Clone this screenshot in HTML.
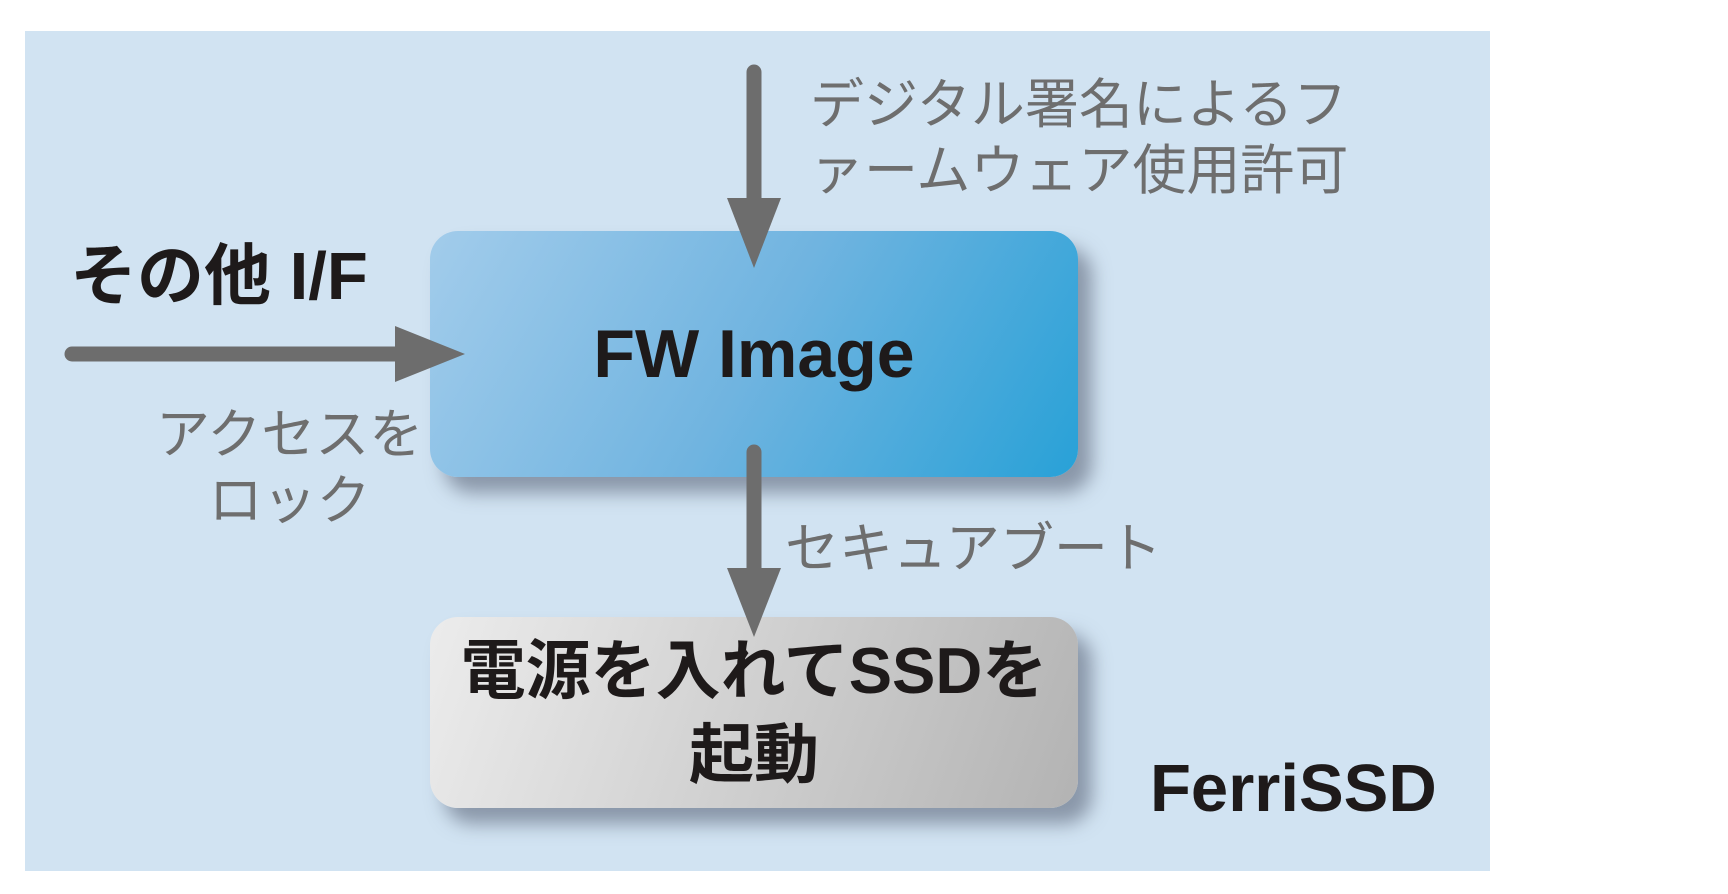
<!DOCTYPE html>
<html><head><meta charset="utf-8"><style>
body{margin:0;width:1728px;height:894px;background:#fff;position:relative;overflow:hidden;font-family:"Liberation Sans","Noto Sans CJK JP",sans-serif}
.p{position:absolute;left:25px;top:31px;width:1465px;height:840px;background:#d1e3f2}
.box{position:absolute;left:430px;width:648px;border-radius:28px;box-shadow:14px 16px 18px rgba(80,90,110,.55);display:flex;align-items:center;justify-content:center;text-align:center;font-weight:bold;color:#1e1a1a}
.t{position:absolute;white-space:nowrap}
.g{color:#6e6e6e;font-size:54px;line-height:66px}
</style></head><body>
<div class="p"></div>
<div class="box" style="top:231px;height:246px;background:linear-gradient(120deg,#a2cceb,#70b4e0 50%,#28a1d7);font-size:68px">FW Image</div>
<div class="box" style="top:617px;height:191px;background:linear-gradient(110deg,#ececec,#b3b3b3);font-size:65px;line-height:84px">電源を入れてSSDを<br>起動</div>
<svg width="1728" height="894" style="position:absolute;left:0;top:0">
<g stroke="#6d6d6d" stroke-width="15" stroke-linecap="round" fill="#6d6d6d">
<line x1="754" y1="72" x2="754" y2="205"/>
<line x1="72" y1="354" x2="400" y2="354"/>
<line x1="754" y1="452" x2="754" y2="575"/>
</g>
<g fill="#6d6d6d">
<polygon points="727,198 781,198 754,268"/>
<polygon points="395,326 395,382 465,354"/>
<polygon points="727,568 781,568 754,637"/>
</g>
</svg>
<div class="t" style="left:70px;top:222px;font-size:67px;font-weight:bold;color:#1e1a1a">その他 I/F</div>
<div class="t g" style="left:810px;top:72px">デジタル署名によるフ<br>ァームウェア使用許可</div>
<div class="t g" style="left:156px;top:402px;text-align:center">アクセスを<br>ロック</div>
<div class="t g" style="left:785px;top:516px">セキュアブート</div>
<div class="t" style="left:1150px;top:750px;font-size:67px;font-weight:bold;color:#1e1a1a">FerriSSD</div>
</body></html>
